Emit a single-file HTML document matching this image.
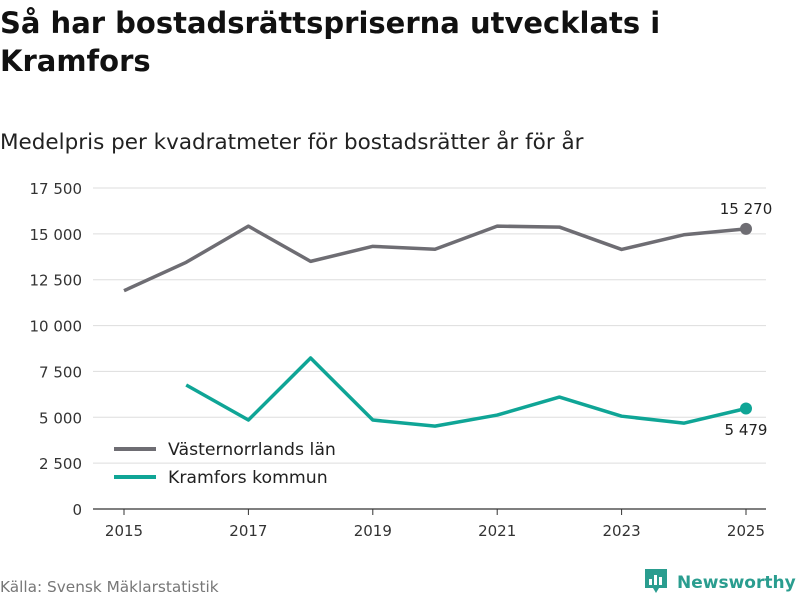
<!DOCTYPE html>
<html><head><meta charset="utf-8"><style>
body{margin:0;background:#fff;font-family:"DejaVu Sans","Liberation Sans",sans-serif;}
#wrap{position:relative;width:800px;height:600px;overflow:hidden;}
h1{position:absolute;left:0;top:4px;margin:0;font-size:29px;line-height:38px;font-weight:bold;color:#111;width:790px;}
h2{position:absolute;left:0;top:130px;margin:0;font-size:21.5px;font-weight:normal;color:#222;white-space:nowrap;}
#src{position:absolute;left:0;top:578px;font-size:15.3px;color:#777;white-space:nowrap;}
#logo{position:absolute;left:644px;top:568px;font-size:17px;font-weight:bold;color:#2a9d8f;white-space:nowrap;width:160px;}
</style></head><body><div id="wrap">
<h1>Så har bostadsrättspriserna utvecklats i Kramfors</h1>
<h2>Medelpris per kvadratmeter för bostadsrätter år för år</h2>
<svg id="chart" width="800" height="600" style="position:absolute;left:0;top:0"></svg>
<div id="src">Källa: Svensk Mäklarstatistik</div>
<div id="logo"><svg width="24" height="26" style="vertical-align:-6px;margin-right:9px"><path d="M1 1h22v19h-8l-3 5-3-5H1z" fill="#2a9d8f"/><rect x="5" y="11" width="3" height="6" fill="#fff"/><rect x="10" y="7" width="3" height="10" fill="#fff"/><rect x="15" y="9" width="3" height="8" fill="#fff"/></svg>Newsworthy</div>
</div>
<script>
const years=[2015,2016,2017,2018,2019,2020,2021,2022,2023,2024,2025];
const lan=[11900,13450,15420,13500,14320,14160,15420,15370,14150,14950,15270];
const kramfors=[null,6760,4850,8230,4850,4520,5120,6100,5060,4680,5479];
const yTicks=[0,2500,5000,7500,10000,12500,15000,17500];
const xTicks=[2015,2017,2019,2021,2023,2025];
const NS="http://www.w3.org/2000/svg";
const svg=document.getElementById('chart');
const x=v=>124+(v-2015)*62.2;
const y=v=>509-v*(321/17500);
const fmt=v=>String(v).replace(/\B(?=(\d{3})+(?!\d))/g,' ');
function mk(t,a){const e=document.createElementNS(NS,t);for(const k in a)e.setAttribute(k,a[k]);svg.appendChild(e);return e;}
yTicks.forEach(t=>{
 const l=mk('line',{x1:93,x2:766,y1:y(t),y2:y(t),stroke:t?'#ddd':'#333','stroke-width':t?1:1.2});
 
 
 const tx=mk('text',{x:82,y:y(t)+6,'text-anchor':'end','font-size':15,fill:'#333','font-family':'DejaVu Sans, Liberation Sans, sans-serif'});
 tx.textContent=fmt(t);
 
 
});
xTicks.forEach(t=>{
 const l=mk('line',{x1:x(t),x2:x(t),y1:509,y2:515,stroke:'#333'});
 
 
 const tx=mk('text',{x:x(t),y:536,'text-anchor':'middle','font-size':15,fill:'#333','font-family':'DejaVu Sans, Liberation Sans, sans-serif'});
 tx.textContent=t;
 
 
});
function series(vals,color,name){
 const pts=[];vals.forEach((v,i)=>{if(v!=null)pts.push(x(years[i])+','+y(v));});
 const p=mk('polyline',{points:pts.join(' '),fill:'none',stroke:color,'stroke-width':3.5,'stroke-linejoin':'round'});
 
 
 const last=vals.length-1;
 const c=mk('circle',{cx:x(years[last]),cy:y(vals[last]),r:6,fill:color});
 
 
}
series(lan,'#6e6d73','lan');
series(kramfors,'#0fa596','kramfors');
let t1=mk('text',{x:746,y:214,'text-anchor':'middle','font-size':15,fill:'#222','font-family':'DejaVu Sans, Liberation Sans, sans-serif'});
t1.textContent=fmt(lan[lan.length-1]);


let t2=mk('text',{x:746,y:435,'text-anchor':'middle','font-size':15,fill:'#222','font-family':'DejaVu Sans, Liberation Sans, sans-serif'});
t2.textContent=fmt(kramfors[kramfors.length-1]);


[['Västernorrlands län','#6e6d73',449],['Kramfors kommun','#0fa596',477]].forEach(([n,c,yy])=>{
 const l=mk('line',{x1:114,x2:156,y1:yy,y2:yy,stroke:c,'stroke-width':4});
 
 
 const t=mk('text',{x:168,y:yy+6,'font-size':17.3,fill:'#222','font-family':'DejaVu Sans, Liberation Sans, sans-serif'});
 t.textContent=n;
 
 
});
</script></body></html>
